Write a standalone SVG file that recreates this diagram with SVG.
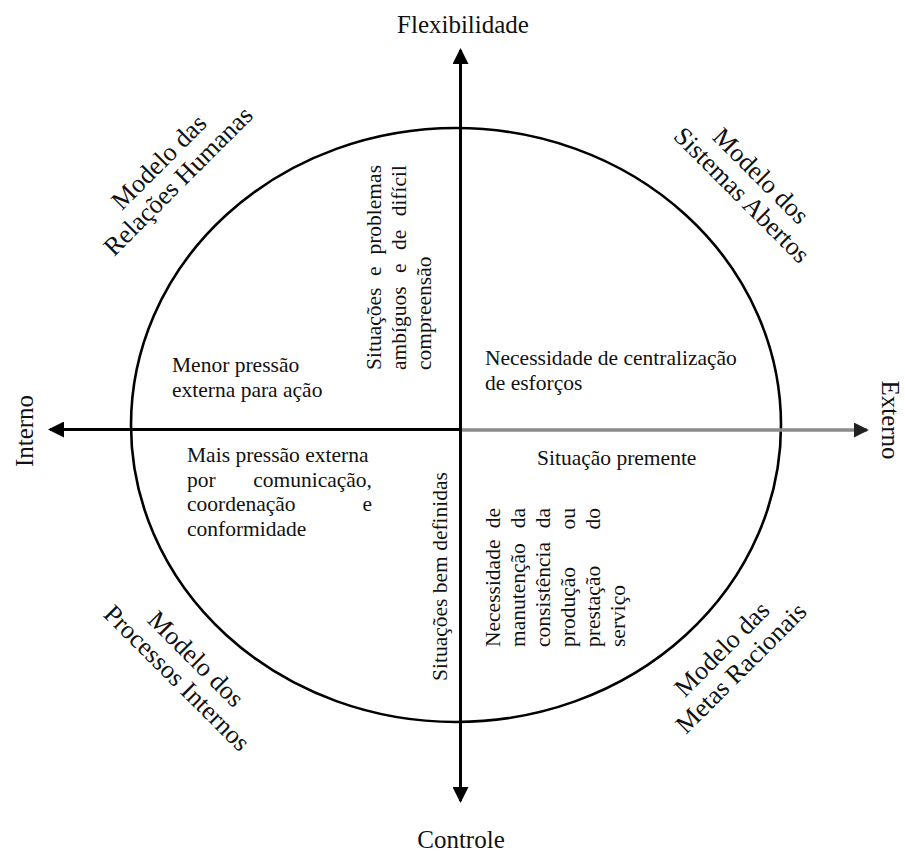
<svg xmlns="http://www.w3.org/2000/svg" width="905" height="852" viewBox="0 0 905 852">
  <style>
    text { fill: #111; }
    .axis { font-size: 25px; }
    .corner { font-size: 26px; text-anchor: middle; }
    .body { font-size: 21.5px; }
    .end { text-anchor: end; }
    .mid { text-anchor: middle; }
    .frame { fill: none; stroke: #000; stroke-width: 2.6; }
  </style>
  <defs>
    <marker id="head" viewBox="0 0 16 16" refX="14" refY="8" markerWidth="16" markerHeight="16" markerUnits="userSpaceOnUse" orient="auto">
      <path d="M0,0 L16,8 L0,16 Z" fill="#000"/>
    </marker>
    <marker id="head-grey" viewBox="0 0 16 16" refX="14" refY="8" markerWidth="15" markerHeight="15" markerUnits="userSpaceOnUse" orient="auto">
      <path d="M0,0 L16,8 L0,16 Z" fill="#222"/>
    </marker>
  </defs>

  <rect width="905" height="852" fill="#fff"/>

  <!-- outer ellipse of the competing values frame -->
  <g id="frame">
    <ellipse class="frame" cx="456" cy="425" rx="325" ry="297"/>
  </g>

  <!-- axes -->
  <g id="connectors">
    <line x1="460.5" y1="430" x2="460.5" y2="50" stroke="#000" stroke-width="3" marker-end="url(#head)"/>
    <line x1="460.5" y1="430" x2="460.5" y2="801" stroke="#000" stroke-width="3" marker-end="url(#head)"/>
    <line x1="461" y1="429.5" x2="50" y2="429.5" stroke="#000" stroke-width="3" marker-end="url(#head)"/>
    <line x1="462" y1="430" x2="867" y2="430" stroke="#8c8c8c" stroke-width="3.5" marker-end="url(#head-grey)"/>
  </g>

  <g font-family="'Liberation Serif', 'DejaVu Serif', serif">
  <!-- axis labels -->
  <g id="label-flexibilidade">
    <text class="axis mid" x="463" y="33">Flexibilidade</text>
  </g>
  <g id="label-controle">
    <text class="axis mid" x="461" y="848">Controle</text>
  </g>
  <g id="label-interno" transform="translate(33,431) rotate(-90)">
    <text class="axis mid" x="0" y="0" font-size="24">Interno</text>
  </g>
  <g id="label-externo" transform="translate(882,420) rotate(90)">
    <text class="axis mid" x="0" y="0" font-size="24">Externo</text>
  </g>

  <!-- model names in the four corners -->
  <g id="model-relacoes-humanas" transform="translate(165,168) rotate(-45)">
    <text class="corner" x="0" y="0">Modelo das</text>
    <text class="corner" x="0" y="27">Relações Humanas</text>
  </g>
  <g id="model-sistemas-abertos" transform="translate(755,182) rotate(45)">
    <text class="corner" x="0" y="0">Modelo dos</text>
    <text class="corner" x="0" y="27">Sistemas Abertos</text>
  </g>
  <g id="model-processos-internos" transform="translate(190,665) rotate(45)">
    <text class="corner" x="0" y="0">Modelo dos</text>
    <text class="corner" x="0" y="27">Processos Internos</text>
  </g>
  <g id="model-metas-racionais" transform="translate(728,655) rotate(-45)">
    <text class="corner" x="0" y="0">Modelo das</text>
    <text class="corner" x="0" y="27">Metas Racionais</text>
  </g>

  <!-- upper-left quadrant -->
  <g id="menor-pressao">
    <text class="body" x="172" y="372">Menor pressão</text>
    <text class="body" x="172" y="397">externa para ação</text>
  </g>
  <g id="situacoes-ambiguas" transform="translate(381,370) rotate(-90)">
    <text class="body" x="0" y="0">Situações</text>
    <text class="body" x="94" y="0">e</text>
    <text class="body end" x="205" y="0">problemas</text>
    <text class="body" x="0" y="25">ambíguos</text>
    <text class="body" x="97" y="25">e</text>
    <text class="body" x="120" y="25">de</text>
    <text class="body end" x="205" y="25">difícil</text>
    <text class="body" x="0" y="50">compreensão</text>
  </g>

  <!-- upper-right quadrant -->
  <g id="centralizacao">
    <text class="body" x="485" y="365">Necessidade de  centralização</text>
    <text class="body" x="485" y="390">de esforços</text>
  </g>

  <!-- lower-left quadrant -->
  <g id="mais-pressao">
    <text class="body" x="187" y="462">Mais pressão externa</text>
    <text class="body" x="187" y="487">por</text>
    <text class="body end" x="372" y="487">comunicação,</text>
    <text class="body" x="187" y="511">coordenação</text>
    <text class="body end" x="372" y="511">e</text>
    <text class="body" x="187" y="536">conformidade</text>
  </g>
  <g id="situacoes-definidas" transform="translate(447,681) rotate(-90)">
    <text class="body" x="0" y="0">Situações bem definidas</text>
  </g>

  <!-- lower-right quadrant -->
  <g id="situacao-premente">
    <text class="body" x="537" y="465">Situação premente</text>
  </g>
  <g id="consistencia" transform="translate(500,647) rotate(-90)">
    <text class="body" x="0" y="0">Necessidade</text>
    <text class="body end" x="139" y="0">de</text>
    <text class="body" x="0" y="25">manutenção</text>
    <text class="body end" x="139" y="25">da</text>
    <text class="body" x="0" y="50">consistência</text>
    <text class="body end" x="139" y="50">da</text>
    <text class="body" x="0" y="75">produção</text>
    <text class="body end" x="139" y="75">ou</text>
    <text class="body" x="0" y="100">prestação</text>
    <text class="body end" x="139" y="100">do</text>
    <text class="body" x="0" y="125">serviço</text>
  </g>
  </g>
</svg>
